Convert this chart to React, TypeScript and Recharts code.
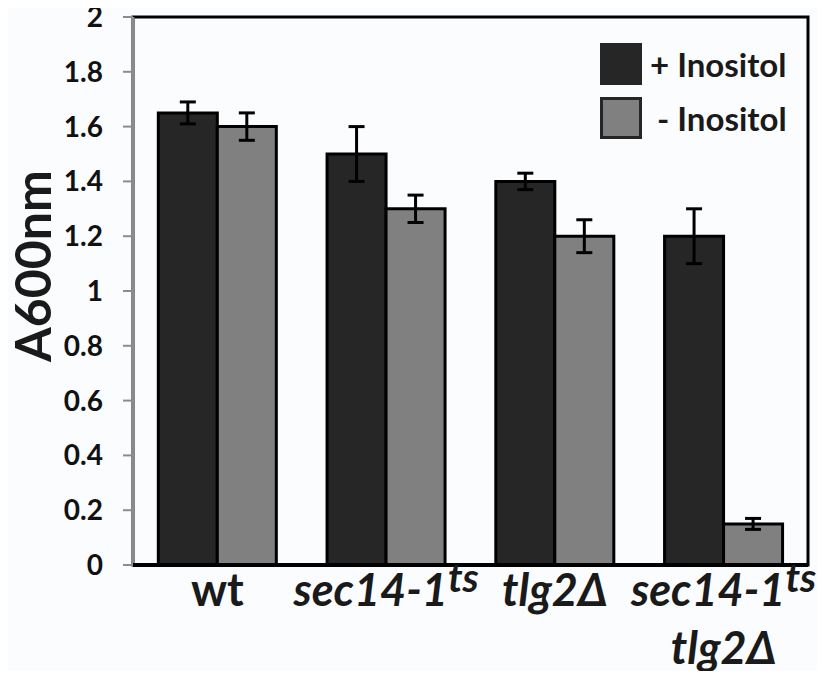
import React from 'react';
import { BarChart, Bar, XAxis, YAxis, ErrorBar, ReferenceArea } from 'recharts';

const strains = ['wt', 'sec14-1ts', 'tlg2Δ', 'sec14-1ts tlg2Δ'];
const plusInositol = [1.65, 1.5, 1.4, 1.2];
const plusErr = [0.04, 0.1, 0.03, 0.1];
const minusInositol = [1.6, 1.3, 1.2, 0.15];
const minusErr = [0.05, 0.05, 0.06, 0.02];
const yTicks = [0, 0.2, 0.4, 0.6, 0.8, 1, 1.2, 1.4, 1.6, 1.8, 2];

const data = strains.map((s, i) => ({
    name: s,
    plus: plusInositol[i],
    plusErr: plusErr[i],
    minus: minusInositol[i],
    minusErr: minusErr[i],
}));

const FONT = 'Lato, "Open Sans", sans-serif';

// strain name, italic genotype with a "ts" superscript where needed
function StrainLabel({ x, y, text }: { x: number; y: number; text: string }) {
    const italic = text !== 'wt';
    const parts = text.split(' ');
    return (
        <text
            x={x}
            y={y}
            textAnchor="middle"
            fontFamily={FONT}
            fontWeight={700}
            fontStyle={italic ? 'italic' : 'normal'}
            fontSize={45}
            fill="#1a1a1a"
        >
            {parts.map((p, i) => {
                const ts = p.endsWith('ts');
                const base = ts ? p.slice(0, -2) : p;
                return (
                    <tspan key={i} x={x} y={y + i * 58}>
                        {base}
                        {ts && (
                            <tspan dy={-14} fontSize={40}>
                                ts
                            </tspan>
                        )}
                    </tspan>
                );
            })}
        </text>
    );
}

function XTick(props: any) {
    const { x, y, payload } = props;
    return <StrainLabel x={x} y={y + 33} text={payload.value} />;
}

function YLabel() {
    return (
        <text
            x={0}
            y={0}
            transform="translate(51, 266) rotate(-90)"
            textAnchor="middle"
            fontFamily={FONT}
            fontWeight={700}
            fontSize={50}
            fill="#1a1a1a"
        >
            A600nm
        </text>
    );
}

function LegendBox() {
    return (
        <div
            style={{
                position: 'absolute',
                left: 600,
                top: 43,
                fontFamily: FONT,
                fontWeight: 700,
                fontSize: 33,
                color: '#1a1a1a',
            }}
        >
            <div style={{ display: 'flex', alignItems: 'center', marginBottom: 12, height: 42 }}>
                <div style={{ width: 42, height: 42, background: '#262626', marginRight: 8 }} />
                <span>+ Inositol</span>
            </div>
            <div style={{ display: 'flex', alignItems: 'center', height: 42 }}>
                <div
                    style={{
                        width: 36,
                        height: 36,
                        background: '#808080',
                        border: '3px solid #262626',
                        marginRight: 15,
                    }}
                />
                <span>- Inositol</span>
            </div>
        </div>
    );
}

export default function App() {
    return (
        <div style={{ position: 'relative', width: 825, height: 679, background: '#fbfcfe', margin: -8 }}>
            <BarChart
                width={825}
                height={679}
                data={data}
                margin={{ top: 17, right: 17, bottom: 0, left: 0 }}
                barCategoryGap="15%"
                barGap={0}
            >
                <ReferenceArea y1={0} y2={2} fill="none" stroke="#000" strokeWidth={3} ifOverflow="visible" />
                <YAxis
                    width={133}
                    domain={[0, 2]}
                    ticks={yTicks}
                    interval={0}
                    stroke="#8c8c8c"
                    strokeWidth={3}
                    tickSize={10}
                    tickMargin={20}
                    tickLine={{ stroke: '#8c8c8c', strokeWidth: 2 }}
                    tick={{ fill: '#111', fontSize: 28, fontWeight: 700, fontFamily: FONT }}
                    label={<YLabel />}
                />
                <XAxis
                    dataKey="name"
                    height={114}
                    stroke="#000"
                    strokeWidth={4}
                    tickLine={false}
                    interval={0}
                    tick={<XTick />}
                />
                <Bar dataKey="plus" fill="#262626" stroke="#000" strokeWidth={3} isAnimationActive={false}>
                    <ErrorBar dataKey="plusErr" width={8} stroke="#000" strokeWidth={3} />
                </Bar>
                <Bar dataKey="minus" fill="#808080" stroke="#000" strokeWidth={3} isAnimationActive={false}>
                    <ErrorBar dataKey="minusErr" width={8} stroke="#000" strokeWidth={3} />
                </Bar>
            </BarChart>
            <LegendBox />
        </div>
    );
}
